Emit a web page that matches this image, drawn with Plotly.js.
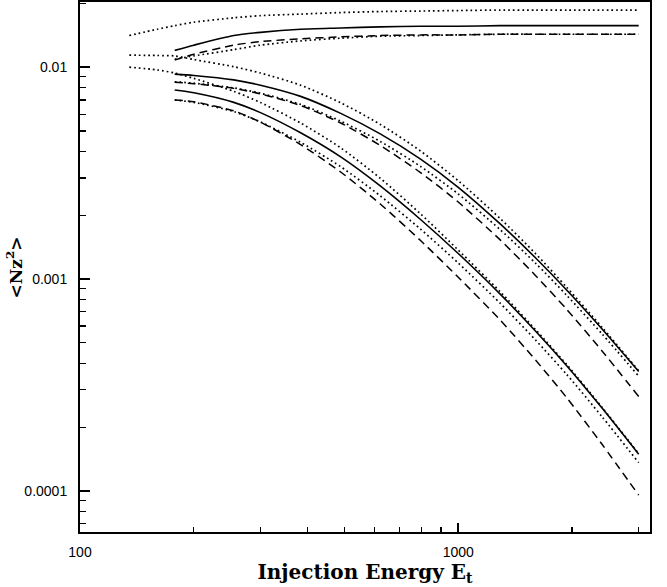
<!DOCTYPE html>
<html>
<head>
<meta charset="utf-8">
<script src="https://cdn.plot.ly/plotly-3.0.1.min.js"></script>
<style>html,body{margin:0;padding:0;background:#fff;}#chart{width:667px;height:587px;}</style>
</head>
<body>
<div id="chart"></div>
<script>
// Injection energies
const E_long = [135, 160, 178, 200, 255, 300, 383, 489, 622, 795, 1000, 1291, 1600, 1940, 2400, 3000];
const E_main = [178, 200, 255, 300, 383, 489, 622, 795, 1000, 1291, 1600, 1940, 2400, 3000];

// Top (flat) group
const top_solid = [0.0120, 0.0127, 0.0141, 0.0146, 0.0151, 0.0153, 0.0155, 0.0156, 0.0156, 0.0157, 0.0157, 0.0157, 0.0157, 0.0157];
const top_dash  = [0.0108, 0.0115, 0.0127, 0.0132, 0.0136, 0.0139, 0.0141, 0.0142, 0.0142, 0.0143, 0.0143, 0.0143, 0.0143, 0.0143];
const top_dot2  = [0.0109, 0.0113, 0.0121, 0.0127, 0.0133, 0.0137, 0.0140, 0.0141, 0.0142, 0.0143, 0.0143, 0.0143, 0.0143, 0.0143];
const top_dot1  = [0.0141, 0.0151, 0.0157, 0.0163, 0.0171, 0.0175, 0.0178, 0.0181, 0.0183, 0.0184, 0.0185, 0.0186, 0.0186, 0.0186, 0.0186, 0.0186];

// Upper decreasing group
const up_solid = [0.00927, 0.00914, 0.00871, 0.00822, 0.00728, 0.00605, 0.00484, 0.00368, 0.00271, 0.00182, 0.00126, 0.000883, 0.000581, 0.000366];
const up_dash  = [0.00849, 0.00836, 0.00794, 0.00748, 0.00659, 0.00545, 0.00427, 0.00318, 0.00231, 0.00153, 0.00104, 0.000716, 0.000458, 0.000279];
const up_dot2  = [0.00853, 0.00840, 0.00798, 0.00753, 0.00667, 0.00556, 0.00446, 0.00340, 0.00252, 0.00171, 0.00119, 0.000834, 0.000551, 0.000348];
const up_dot1  = [0.01140, 0.01135, 0.01130, 0.01086, 0.01005, 0.00938, 0.00822, 0.00679, 0.00537, 0.00402, 0.00291, 0.00193, 0.00132, 0.000910, 0.000592, 0.000369];

// Lower decreasing group
const lo_solid = [0.00780, 0.00757, 0.00682, 0.00610, 0.00490, 0.00377, 0.00275, 0.00191, 0.00132, 0.000849, 0.000569, 0.000388, 0.000246, 0.000149];
const lo_dash  = [0.00700, 0.00686, 0.00622, 0.00550, 0.00431, 0.00320, 0.00226, 0.00152, 0.00102, 0.000641, 0.000415, 0.000274, 0.000166, 0.0000955];
const lo_dot2  = [0.00700, 0.00682, 0.00617, 0.00551, 0.00442, 0.00339, 0.00247, 0.00172, 0.00119, 0.000769, 0.000516, 0.000353, 0.000224, 0.000136];
const lo_dot1  = [0.0100, 0.00970, 0.00938, 0.00885, 0.00769, 0.00681, 0.00545, 0.00416, 0.00299, 0.00203, 0.00137, 0.000871, 0.000578, 0.000393, 0.000248, 0.000150];

// Tick labels
const xTickVals = [100, 1000];
const xTickText = ['100', '1000'];
const xMinorVals = [200, 300, 400, 500, 600, 700, 800, 900, 2000, 3000];
const yTickVals = [0.0001, 0.001, 0.01];
const yTickText = ['0.0001', '0.001', '0.01'];
const yMinorVals = [0.00007, 0.00008, 0.00009, 0.0002, 0.0003, 0.0004, 0.0005, 0.0006, 0.0007, 0.0008, 0.0009,
                    0.002, 0.003, 0.004, 0.005, 0.006, 0.007, 0.008, 0.009, 0.02];

const SOLID = {color: '#000', width: 1.6, dash: 'solid', shape: 'spline', smoothing: 0.7};
const DASH  = {color: '#000', width: 1.5, dash: '8px,5px', shape: 'spline', smoothing: 0.7};
const DOT   = {color: '#000', width: 1.7, dash: '1.7px,3px', shape: 'spline', smoothing: 0.7};

function tr(x, y, line) { return {x: x, y: y, mode: 'lines', line: line, hoverinfo: 'skip', showlegend: false}; }

const data = [
  tr(E_long, top_dot1, DOT),
  tr(E_main, top_solid, SOLID),
  tr(E_main, top_dash, DASH),
  tr(E_main, top_dot2, DOT),
  tr(E_long, up_dot1, DOT),
  tr(E_main, up_solid, SOLID),
  tr(E_main, up_dash, DASH),
  tr(E_main, up_dot2, DOT),
  tr(E_long, lo_dot1, DOT),
  tr(E_main, lo_solid, SOLID),
  tr(E_main, lo_dash, DASH),
  tr(E_main, lo_dot2, DOT)
];

const xRange = [2, 3.507];
const yRange = [Math.log10(0.000064), Math.log10(0.0203)];
const tickFont = {family: 'Liberation Sans, Arial, sans-serif', size: 14, color: '#000'};
const xMinor = {tickmode: 'array', tickvals: xMinorVals, ticks: 'inside', ticklen: 5, tickwidth: 1.2, tickcolor: '#000', showgrid: false};
const yMinor = {tickmode: 'array', tickvals: yMinorVals, ticks: 'inside', ticklen: 6, tickwidth: 1.2, tickcolor: '#000', showgrid: false};

const layout = {
  width: 667, height: 587,
  margin: {l: 80, r: 17, t: 2, b: 55},
  paper_bgcolor: '#fff', plot_bgcolor: '#fff',
  xaxis: {
    type: 'log', range: xRange, showgrid: false, zeroline: false,
    showline: true, linecolor: '#000', linewidth: 2, mirror: true,
    tickmode: 'array', tickvals: xTickVals, ticktext: xTickText,
    ticks: 'inside', ticklen: 9, tickwidth: 1.5, tickcolor: '#000',
    minor: xMinor, tickfont: tickFont, ticklabelstandoff: 6,
    title: {text: 'Injection Energy E<sub>t</sub>', standoff: 0,
            font: {family: 'DejaVu Serif, serif', size: 20, color: '#000', weight: 'bold'}}
  },
  yaxis: {
    type: 'log', range: yRange, showgrid: false, zeroline: false,
    showline: true, linecolor: '#000', linewidth: 2, mirror: true,
    tickmode: 'array', tickvals: yTickVals, ticktext: yTickText,
    ticks: 'inside', ticklen: 10, tickwidth: 1.5, tickcolor: '#000',
    minor: yMinor, tickfont: tickFont, ticklabelstandoff: 8
  },
  xaxis2: {
    type: 'log', range: xRange, overlaying: 'x', side: 'top', anchor: 'y',
    showgrid: false, zeroline: false, showline: false, showticklabels: false,
    tickmode: 'array', tickvals: xTickVals,
    ticks: 'inside', ticklen: 9, tickwidth: 1.5, tickcolor: '#000', minor: xMinor
  },
  yaxis2: {
    type: 'log', range: yRange, overlaying: 'y', side: 'right', anchor: 'x',
    showgrid: false, zeroline: false, showline: false, showticklabels: false,
    tickmode: 'array', tickvals: yTickVals,
    ticks: 'inside', ticklen: 10, tickwidth: 1.5, tickcolor: '#000', minor: yMinor
  },
  annotations: [{
    text: '&lt;Nz<sup>2</sup>&gt;', textangle: -90,
    xref: 'paper', yref: 'paper', x: -0.115, y: 0.5, xanchor: 'center', yanchor: 'middle',
    showarrow: false,
    font: {family: 'DejaVu Serif, serif', size: 17, color: '#000', weight: 'bold'}
  }]
};

Plotly.newPlot('chart', data, layout, {staticPlot: true, displayModeBar: false});
</script>
</body>
</html>
